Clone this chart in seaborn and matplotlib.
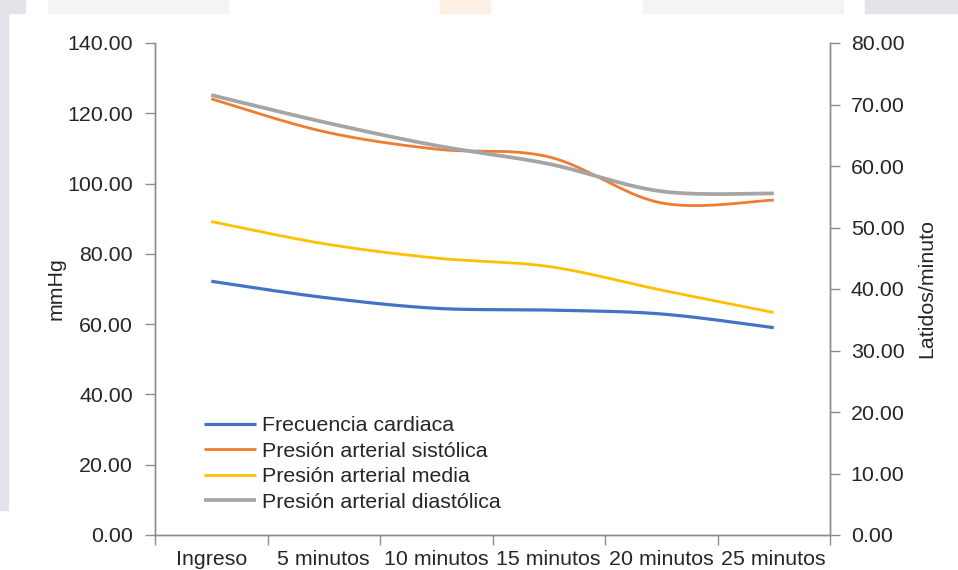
import numpy as np
import pandas as pd
import matplotlib.pyplot as plt
import seaborn as sns
from matplotlib.patches import Rectangle
from matplotlib.ticker import FormatStrFormatter, FixedLocator

sns.set_style("white")
plt.rcParams['font.family'] = ['Liberation Sans', 'DejaVu Sans']

FONT = 15.4
AXIS_COLOR = '#8c8c8c'

categorias = ["Ingreso", "5 minutos", "10 minutos", "15 minutos", "20 minutos", "25 minutos"]
frecuencia = [72.2, 67.6, 64.5, 64.0, 62.9, 59.0]
sistolica = [124.1, 114.8, 109.8, 107.6, 94.5, 95.3]
media = [89.2, 82.9, 78.8, 76.4, 69.7, 63.3]
diastolica = [125.2, 117.5, 110.8, 105.6, 97.8, 97.2]

series = [
    ("Frecuencia cardiaca", frecuencia, '#4472C4', 2.3),
    ("Presión arterial sistólica", sistolica, '#ED7D31', 2.0),
    ("Presión arterial media", media, '#FFC000', 2.0),
    ("Presión arterial diastólica", diastolica, '#A5A5A5', 2.7),
]


def suavizar(y, n=40):
    # curva suavizada tipo Excel (Bezier / Catmull-Rom)
    x = np.arange(len(y), dtype=float)
    y = np.asarray(y, dtype=float)
    px = np.concatenate([[x[0]], x, [x[-1]]])
    py = np.concatenate([[y[0]], y, [y[-1]]])
    xs, ys = [], []
    t = np.linspace(0, 1, n)
    for i in range(len(y) - 1):
        p0x, p0y = px[i + 1], py[i + 1]
        p3x, p3y = px[i + 2], py[i + 2]
        b1x = p0x + (px[i + 2] - px[i]) / 6
        b1y = p0y + (py[i + 2] - py[i]) / 6
        b2x = p3x - (px[i + 3] - px[i + 1]) / 6
        b2y = p3y - (py[i + 3] - py[i + 1]) / 6
        bx = (1 - t) ** 3 * p0x + 3 * (1 - t) ** 2 * t * b1x + 3 * (1 - t) * t ** 2 * b2x + t ** 3 * p3x
        by = (1 - t) ** 3 * p0y + 3 * (1 - t) ** 2 * t * b1y + 3 * (1 - t) * t ** 2 * b2y + t ** 3 * p3y
        xs.extend(bx)
        ys.extend(by)
    return np.array(xs), np.array(ys)


fig = plt.figure(figsize=(9.58, 5.7), dpi=100)
fig.patch.set_facecolor('white')

# franjas grises del borde de la imagen original
fig.patches.extend([
    Rectangle((0, 0.105), 8 / 958, 0.895, transform=fig.transFigure, color='#e4e3ea', zorder=0),
    Rectangle((0, 1 - 13 / 570), 25 / 958, 13 / 570, transform=fig.transFigure, color='#e4e3ea', zorder=0),
    Rectangle((48 / 958, 1 - 13 / 570), 180 / 958, 13 / 570, transform=fig.transFigure, color='#f3f4f6', zorder=0),
    Rectangle((440 / 958, 1 - 13 / 570), 50 / 958, 13 / 570, transform=fig.transFigure, color='#fdf0e3', zorder=0),
    Rectangle((643 / 958, 1 - 13 / 570), 200 / 958, 13 / 570, transform=fig.transFigure, color='#f3f4f6', zorder=0),
    Rectangle((865 / 958, 1 - 13 / 570), 93 / 958, 13 / 570, transform=fig.transFigure, color='#e4e3ea', zorder=0),
])

ax = fig.add_axes([155 / 958, 1 - 535 / 570, 675 / 958, 492 / 570])
ax.set_facecolor('none')
ax2 = ax.twinx()

for nombre, valores, color, lw in series:
    xs, ys = suavizar(valores)
    df = pd.DataFrame({"x": xs, "y": ys})
    sns.lineplot(data=df, x="x", y="y", sort=False, color=color, linewidth=lw,
                 label=nombre, ax=ax, solid_capstyle='butt')

ax.set_xlim(-0.5, len(categorias) - 0.5)
ax.set_ylim(0, 140)
ax.set_yticks(np.arange(0, 141, 20))
ax.yaxis.set_major_formatter(FormatStrFormatter('%.2f'))
ax.xaxis.set_major_locator(FixedLocator(np.arange(-0.5, len(categorias), 1.0)))
ax.xaxis.set_minor_locator(FixedLocator(np.arange(len(categorias))))
ax.set_xticklabels([], minor=False)
ax.set_xticklabels(categorias, minor=True)
ax.tick_params(axis='x', which='major', length=7, width=1, color=AXIS_COLOR, direction='out', bottom=True)
ax.tick_params(axis='x', which='minor', length=0, pad=10.5, labelsize=FONT)
ax.tick_params(axis='y', length=7, width=1, color=AXIS_COLOR, direction='out', left=True, pad=9, labelsize=FONT)
ax.set_xlabel("")
ax.set_ylabel("mmHg", fontsize=FONT)
ax.yaxis.set_label_coords(-0.133, 0.5)

ax2.set_ylim(0, 80)
ax2.set_yticks(np.arange(0, 81, 10))
ax2.yaxis.set_major_formatter(FormatStrFormatter('%.2f'))
ax2.tick_params(axis='y', length=7, width=1, color=AXIS_COLOR, direction='out', right=True, pad=8, labelsize=FONT)
ax2.set_ylabel("Latidos/minuto", fontsize=FONT)
ax2.yaxis.set_label_coords(1.129, 0.5)

for a in (ax, ax2):
    a.spines['top'].set_visible(False)
    for s in ('left', 'right', 'bottom'):
        a.spines[s].set_color(AXIS_COLOR)
        a.spines[s].set_linewidth(1)

ax.legend(loc='lower left', bbox_to_anchor=(0.06, 0.03), frameon=False, fontsize=FONT,
          handlelength=2.45, handletextpad=0.25, labelspacing=0.3, borderaxespad=0)

fig.savefig("out.png", dpi=100)
